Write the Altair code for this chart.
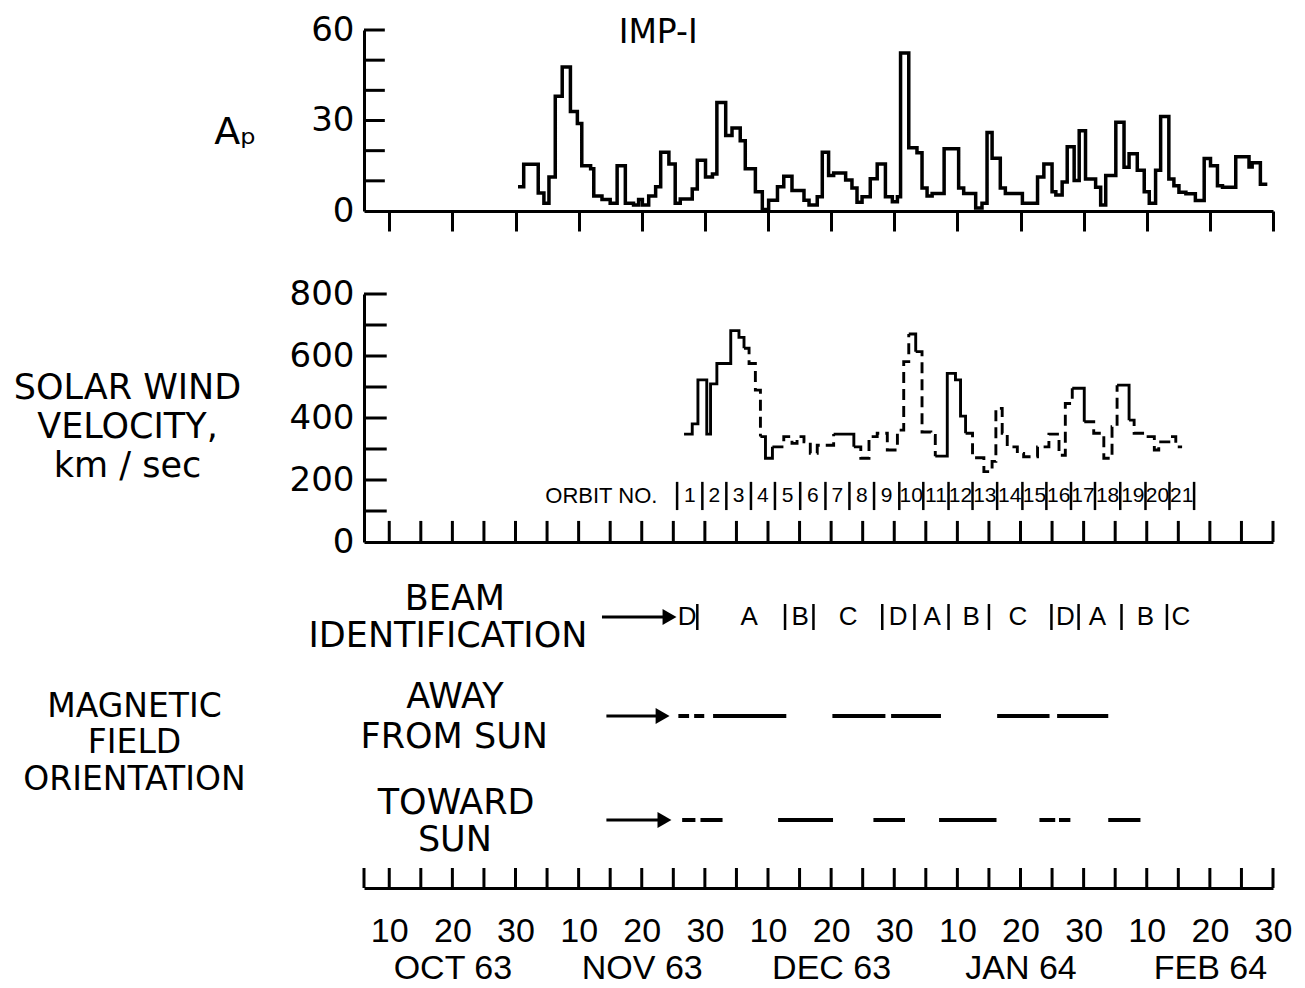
import altair as alt
import pandas as pd

FONT = "DejaVu Sans"
NFONT = "Liberation Sans"

# Day index on a schematic 30-day-month axis: Oct 1 = 1, Nov 1 = 31, ..., Feb 30 = 150
X_DOMAIN = [6, 150]
x_ticks = list(range(10, 151, 5))
x_labels = list(range(10, 151, 10))
months = ["OCT 63", "NOV 63", "DEC 63", "JAN 64", "FEB 64"]

# ---- Ap (daily planetary index), step starts ----
ap_day = [30.4, 31.3, 33.6, 34.5, 35.3, 36.3, 37.4, 38.7, 39.8, 40.5, 41.9, 42.4, 43.7, 45.0,
          46.1, 47.4, 48.7, 49.5, 50.1, 51.1, 52.2, 53.0, 54.3, 55.3, 56.1, 58.0, 58.8, 60.1,
          61.2, 61.9, 63.3, 64.3, 65.6, 66.4, 68.0, 69.1, 70.1, 71.5, 72.5, 73.8, 75.7, 76.5,
          77.8, 78.6, 79.6, 80.4, 82.3, 83.3, 84.1, 84.9, 86.2, 87.3, 88.6, 89.7, 90.5, 91.0,
          92.3, 93.6, 94.4, 95.2, 96.0, 97.9, 100.2, 101.0, 102.9, 103.9, 104.7, 105.5, 106.8,
          107.6, 110.3, 112.7, 113.7, 115.0, 115.6, 116.6, 117.4, 118.5, 119.3, 120.3, 121.9,
          122.7, 123.5, 125.1, 126.4, 127.2, 128.5, 129.6, 130.4, 131.4, 132.2, 133.5, 134.3,
          135.1, 136.2, 137.7, 139.1, 140.1, 141.2, 142.0, 144.1, 146.2, 146.7, 148.0, 149.1]
ap_val = [8, 15.5, 6, 2.6, 11.3, 38, 47.7, 33, 29, 15, 14, 5, 3.8, 2.6,
          15, 2.6, 2, 3.8, 2, 5, 8, 19.5, 15.6, 2.6, 4, 7.3, 16.8, 11.3,
          12.3, 36, 25, 27.5, 23.3, 14, 6.4, 0.5, 3.6, 8, 11.5, 6.8, 3.6, 2,
          4.7, 19.5, 11.8, 12.6, 10.3, 7.6, 2.9, 4.7, 10.7, 15.6, 4.7, 3.1, 4.7, 52.4,
          21, 19.3, 7.6, 5, 5.8, 20.6, 7.6, 5.8, 1, 2.6, 26, 17.5, 7.6,
          5.8, 2.6, 11.3, 15.6, 6.4, 5.3, 9.6, 21.3, 10.1, 26.6, 10.6, 7.9,
          2, 11.8, 29.4, 14.5, 19, 13.5, 6.4, 2.6, 13.5, 31.3, 10.6, 8.4,
          6.2, 5.7, 3.5, 17.4, 15, 8.4, 7.9, 18, 14.6, 16, 8.9, 8.9]
ap_yticks = [10, 20, 30, 40, 50, 60]
ap_ylabels = [0, 30, 60]

# ---- Solar wind velocity (km/sec), step starts ----
v_day = [56.7, 58.0, 58.9, 60.3, 60.9, 61.9, 64.1, 65.4, 66.2, 67.0, 68.0, 68.8, 69.6, 70.7,
         72.5, 73.8, 74.6, 75.7, 76.7, 77.8, 80.4, 83.6, 84.7, 86.0, 87.3, 88.9, 90.5, 91.5,
         92.3, 93.4, 94.4, 95.8, 96.5, 98.4, 99.7, 100.5, 101.3, 102.4, 104.2, 105.5, 106.1,
         107.1, 107.9, 109.5, 110.5, 112.7, 114.5, 116.1, 117.1, 118.2, 120.1, 121.6, 123.2,
         124.5, 125.3, 127.2, 128.0, 129.6, 131.2, 131.9, 133.5, 134.6, 135.6]
v_val = [348, 381, 523, 348, 510, 576, 682, 660, 625, 576, 490, 340, 270, 307,
         340, 318, 340, 323, 286, 312, 348, 307, 270, 340, 351, 297, 361, 582,
         671, 614, 355, 344, 277, 544, 523, 406, 351, 272, 227, 260, 431,
         351, 307, 286, 275, 307, 348, 280, 447, 496, 388, 351, 270,
         372, 506, 393, 351, 340, 297, 323, 340, 307, 307]
solid_spans = [(56.7, 66.2), (68.8, 70.7), (80.4, 83.6), (92.3, 93.4), (96.5, 101.3),
               (118.2, 120.1), (125.3, 127.2)]
v_yticks = [100, 200, 300, 400, 500, 600, 700, 800]
v_ylabels = [0, 200, 400, 600, 800]

# ---- Orbits ----
orbit_bounds = [55.6, 59.6, 63.4, 67.3, 71.1, 75.1, 79.1, 82.9, 86.8, 90.8, 94.6,
                98.6, 102.4, 106.3, 110.3, 114.1, 118.0, 121.8, 125.8, 129.8, 133.6, 137.5]
orbit_nums = [str(i) for i in range(1, 22)]

# ---- Beam identification ----
beam_letters = ["D", "A", "B", "C", "D", "A", "B", "C", "D", "A", "B", "C"]
beam_pos = [57.2, 67.0, 75.1, 82.7, 90.6, 96.0, 102.2, 109.6, 117.1, 122.2, 129.8, 135.4]
beam_bars = [58.8, 72.7, 77.2, 88.1, 93.2, 98.6, 105.0, 114.9, 119.2, 126.0, 133.2]

# ---- Magnetic field orientation intervals ----
away_start = [55.8, 58.3, 61.3, 80.2, 89.5, 106.3, 115.8]
away_end = [57.5, 59.9, 72.9, 88.6, 97.4, 114.6, 123.9]
toward_start = [56.4, 59.3, 71.6, 86.7, 97.1, 113.0, 116.1, 123.9]
toward_end = [58.5, 62.8, 80.3, 91.7, 106.2, 115.5, 117.9, 129.0]

# panel-3 row levels
ROW_BEAM, ROW_AWAY, ROW_TOWARD = 271, 172, 68

W, H1, H2, H3 = 909, 181, 248, 263

xs = alt.Scale(domain=X_DOMAIN, nice=False, zero=False)
y1s = alt.Scale(domain=[0, 60], nice=False)
y2s = alt.Scale(domain=[0, 800], nice=False)
y3s = alt.Scale(domain=[0, 263], nice=False)

BLACK = "black"

# ================= Panel 1: Ap =================
ap_df = pd.DataFrame({"day": ap_day, "ap": ap_val})
p1_line = alt.Chart(ap_df).mark_line(
    interpolate="step-after", color=BLACK, strokeWidth=3.5
).encode(
    x=alt.X("day:Q", scale=xs, axis=alt.Axis(
        values=x_ticks, labels=False, tickSize=20, tickWidth=3, tickColor=BLACK,
        domainWidth=3, domainColor=BLACK, grid=False, title=None)),
    y=alt.Y("ap:Q", scale=y1s, axis=alt.Axis(
        values=ap_ylabels, ticks=False, domainWidth=3, domainColor=BLACK, grid=False,
        labelFont=FONT, labelFontSize=34, labelColor=BLACK, labelPadding=10,
        title="Aₚ", titleAngle=0, titleFont=FONT, titleFontSize=38, titleFontWeight="normal",
        titleColor=BLACK, titleAlign="center", titleBaseline="middle", titleX=-129, titleY=102)),
)
p1_yt = alt.Chart(pd.DataFrame({"v": ap_yticks, "a": X_DOMAIN[0], "b": X_DOMAIN[0] + 3.3})).mark_rule(
    color=BLACK, strokeWidth=3
).encode(
    x=alt.X("a:Q", scale=xs), x2="b:Q",
    y=alt.Y("v:Q", scale=y1s),
)
p1_title = alt.Chart(pd.DataFrame({"t": ["IMP-I"], "d": [52.6], "a": [59]})).mark_text(
    font=FONT, fontSize=33, color=BLACK, align="center", baseline="middle"
).encode(x=alt.X("d:Q", scale=xs), y=alt.Y("a:Q", scale=y1s), text="t:N")
panel1 = alt.layer(p1_line, p1_yt, p1_title).properties(width=W, height=H1)

# ================= Panel 2: velocity =================
def _solid(d):
    return any(a <= d < b for a, b in solid_spans)

rows, run, prev = [], 0, None
for i in range(len(v_day) - 1):
    s = "solid" if _solid(v_day[i]) else "dashed"
    if prev is not None and s != prev:
        rows.append({"day": v_day[i], "v": v_val[i], "style": prev, "run": run})
        run += 1
    rows.append({"day": v_day[i], "v": v_val[i], "style": s, "run": run})
    prev = s
rows.append({"day": v_day[-1], "v": v_val[-1], "style": prev, "run": run})
v_df = pd.DataFrame(rows)

p2_line = alt.Chart(v_df).mark_line(
    interpolate="step-after", color=BLACK, strokeWidth=2.9
).encode(
    x=alt.X("day:Q", scale=xs, axis=alt.Axis(
        labels=False, ticks=False, domainWidth=3, domainColor=BLACK, grid=False, title=None)),
    y=alt.Y("v:Q", scale=y2s, axis=alt.Axis(
        values=v_ylabels, ticks=False, domainWidth=3, domainColor=BLACK, grid=False,
        labelFont=FONT, labelFontSize=34, labelColor=BLACK, labelPadding=10,
        title=["SOLAR WIND", "VELOCITY,", "km / sec"], titleAngle=0, titleFont=FONT,
        titleFontSize=35, titleFontWeight="normal", titleColor=BLACK, titleAlign="center",
        titleBaseline="middle", titleLineHeight=39, titleX=-237, titleY=93)),
    strokeDash=alt.StrokeDash("style:N", scale=alt.Scale(
        domain=["solid", "dashed"], range=[[1, 0], [11, 6]]), legend=None),
    detail="run:N",
)
p2_yt = alt.Chart(pd.DataFrame({"v": v_yticks, "a": X_DOMAIN[0], "b": X_DOMAIN[0] + 3.6})).mark_rule(
    color=BLACK, strokeWidth=3
).encode(
    x=alt.X("a:Q", scale=xs), x2="b:Q",
    y=alt.Y("v:Q", scale=y2s),
)
p2_xt = alt.Chart(pd.DataFrame({"d": x_ticks, "lo": 0, "hi": 68})).mark_rule(
    color=BLACK, strokeWidth=3
).encode(
    x=alt.X("d:Q", scale=xs), y=alt.Y("lo:Q", scale=y2s), y2="hi:Q",
)
orb_bar = alt.Chart(pd.DataFrame({"d": orbit_bounds, "lo": 103, "hi": 194})).mark_rule(
    color=BLACK, strokeWidth=2.5
).encode(
    x=alt.X("d:Q", scale=xs), y=alt.Y("lo:Q", scale=y2s), y2="hi:Q",
)
orb_mid = [(orbit_bounds[i] + orbit_bounds[i + 1]) / 2 for i in range(len(orbit_nums))]
orb_txt = alt.Chart(pd.DataFrame({"d": orb_mid, "t": orbit_nums, "v": [148] * len(orb_mid)})).mark_text(
    font=NFONT, fontSize=21, color=BLACK, align="center", baseline="middle"
).encode(x=alt.X("d:Q", scale=xs), y=alt.Y("v:Q", scale=y2s), text="t:N")
orb_lbl = alt.Chart(pd.DataFrame({"d": [43.6], "v": [148], "t": ["ORBIT  NO."]})).mark_text(
    font=NFONT, fontSize=22, color=BLACK, align="center", baseline="middle"
).encode(x=alt.X("d:Q", scale=xs), y=alt.Y("v:Q", scale=y2s), text="t:N")
panel2 = alt.layer(p2_line, p2_yt, p2_xt, orb_bar, orb_txt, orb_lbl).properties(width=W, height=H2)

# ================= Panel 3: beams, magnetic field, time axis =================
month_js = "[" + ",".join("'%s'" % m for m in months) + "]"
label_expr = (
    "datum.value % 30 == 20 ? ['20', " + month_js + "[floor(datum.value / 30)]] : "
    "(datum.value % 30 == 0 ? '30' : '10')"
)
p3_ticks = alt.Chart(pd.DataFrame({"d": [X_DOMAIN[0]] + x_ticks, "lo": 0, "hi": 20})).mark_rule(
    color=BLACK, strokeWidth=3
).encode(
    x=alt.X("d:Q", scale=xs, axis=alt.Axis(
        values=x_labels, labelExpr=label_expr, ticks=False, domainWidth=3, domainColor=BLACK,
        grid=False, labelFont=NFONT, labelFontSize=34, labelColor=BLACK, labelPadding=26,
        labelBaseline="top", labelLineHeight=37, labelOverlap=False, labelFlush=False, title=None)),
    y=alt.Y("lo:Q", scale=y3s, axis=alt.Axis(
        domain=False, ticks=False, labels=False, grid=False,
        title=["MAGNETIC", "FIELD", "ORIENTATION"], titleAngle=0, titleFont=FONT,
        titleFontSize=33, titleFontWeight="normal", titleColor=BLACK, titleAlign="center",
        titleBaseline="middle", titleLineHeight=36.5, titleX=-230, titleY=81)),
    y2="hi:Q",
)

mag_df = pd.DataFrame({
    "s": away_start + toward_start,
    "e": away_end + toward_end,
    "row": [ROW_AWAY] * len(away_start) + [ROW_TOWARD] * len(toward_start),
})
mag = alt.Chart(mag_df).mark_rule(color=BLACK, strokeWidth=4).encode(
    x=alt.X("s:Q", scale=xs), x2="e:Q", y=alt.Y("row:Q", scale=y3s),
)

arr_df = pd.DataFrame({
    "s": [43.7, 44.4, 44.4],
    "tip": [55.6, 54.5, 54.8],
    "row": [ROW_BEAM, ROW_AWAY, ROW_TOWARD],
})
arr_df["shaft_end"] = arr_df["tip"] - 1.5
arr_df["head"] = arr_df["tip"] - 1.2
arr_shaft = alt.Chart(arr_df).mark_rule(color=BLACK, strokeWidth=3).encode(
    x=alt.X("s:Q", scale=xs), x2="shaft_end:Q", y=alt.Y("row:Q", scale=y3s),
)
arr_head = alt.Chart(arr_df).mark_point(
    shape="triangle-right", filled=True, color=BLACK, size=260, opacity=1
).encode(x=alt.X("head:Q", scale=xs), y=alt.Y("row:Q", scale=y3s))

beam_txt = alt.Chart(pd.DataFrame({"d": beam_pos, "t": beam_letters, "r": [ROW_BEAM] * len(beam_pos)})).mark_text(
    font=NFONT, fontSize=26, color=BLACK, align="center", baseline="middle"
).encode(x=alt.X("d:Q", scale=xs), y=alt.Y("r:Q", scale=y3s), text="t:N")
beam_bar = alt.Chart(pd.DataFrame({"d": beam_bars, "lo": ROW_BEAM - 13, "hi": ROW_BEAM + 13})).mark_rule(
    color=BLACK, strokeWidth=2.5
).encode(
    x=alt.X("d:Q", scale=xs), y=alt.Y("lo:Q", scale=y3s), y2="hi:Q",
)

lab_df = pd.DataFrame({
    "t": ["BEAM", "IDENTIFICATION", "AWAY", "FROM SUN", "TOWARD", "SUN"],
    "d": [20.4, 19.3, 20.4, 20.3, 20.6, 20.4],
    "r": [289, 252, 191, 151, 85, 48],
})
labs = alt.Chart(lab_df).mark_text(
    font=FONT, fontSize=35, color=BLACK, align="center", baseline="middle"
).encode(x=alt.X("d:Q", scale=xs), y=alt.Y("r:Q", scale=y3s), text="t:N")

panel3 = alt.layer(p3_ticks, mag, arr_shaft, arr_head, beam_txt, beam_bar, labs).properties(
    width=W, height=H3)

chart = alt.vconcat(panel1, panel2, panel3, spacing=83, bounds="flush").properties(
    padding={"left": 13, "top": 13, "right": 5, "bottom": 0}
).configure(background="white").configure_view(stroke=None)

chart.save("out.html", embed_options={"renderer": "svg", "actions": False})
